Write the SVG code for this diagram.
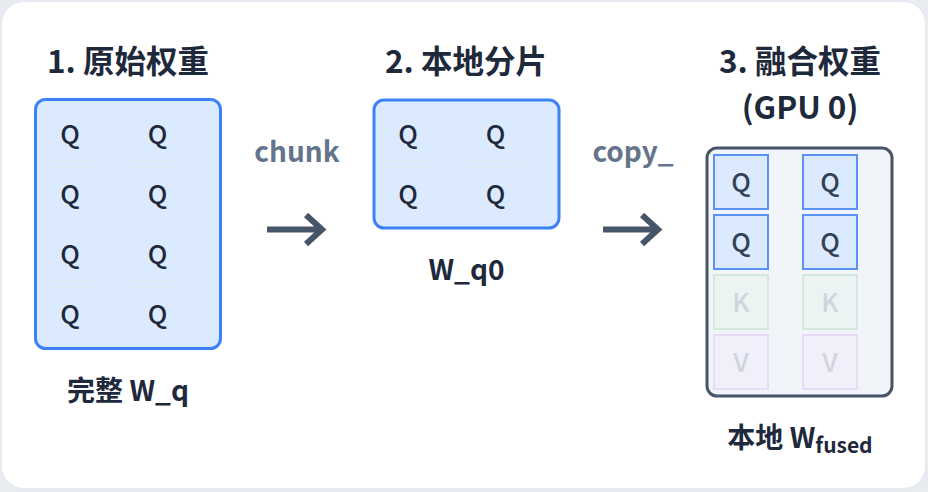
<svg xmlns="http://www.w3.org/2000/svg" width="928" height="492" viewBox="0 0 928 492">
<defs>
<style>
text{font-family:"Noto Sans CJK SC","Noto Sans",sans-serif;text-anchor:middle}
.title{font-size:31.5px;font-weight:700;fill:#1e293b}
.lbl{font-size:28px;font-weight:700;fill:#1e293b}
.op{font-size:28px;font-weight:700;fill:#64748b}
.q{font-size:26px;font-weight:500;fill:#1e293b}
.cell{fill:#dbeafe;stroke:#e2e8f0;stroke-width:1}
.qc{fill:#dbeafe;stroke:#5b93f5;stroke-width:2}
.kc{fill:#ecf4f3;stroke:#d3e9dc;stroke-width:2}
.vc{fill:#f1f0fa;stroke:#e7dbf8;stroke-width:2}
.faint{font-size:26px;font-weight:500;fill:#cfd5dd}
.qd{font-size:26px;font-weight:500;fill:#334155}
.arrow{fill:none;stroke:#475569;stroke-width:6}
</style>
</defs>
<rect x="0" y="0" width="928" height="492" fill="#e8ebf0"/>
<rect x="1.5" y="1.5" width="924" height="487" rx="22" fill="#ffffff" stroke="#e2e8f0"/>

<g id="full-wq">
<text class="title" x="128" y="73">1. 原始权重</text>
<rect x="35.5" y="99.5" width="185" height="249" rx="10" fill="#dbeafe" stroke="#3b82f6" stroke-width="3"/>
<rect class="cell" x="43" y="107" width="54" height="54"/><rect class="cell" x="130" y="107" width="55" height="54"/>
<rect class="cell" x="43" y="167" width="54" height="54"/><rect class="cell" x="130" y="167" width="55" height="54"/>
<rect class="cell" x="43" y="227" width="54" height="54"/><rect class="cell" x="130" y="227" width="55" height="54"/>
<rect class="cell" x="43" y="287" width="54" height="54"/><rect class="cell" x="130" y="287" width="55" height="54"/>
<text class="q" x="70" y="144">Q</text><text class="q" x="157.5" y="144">Q</text>
<text class="q" x="70" y="204">Q</text><text class="q" x="157.5" y="204">Q</text>
<text class="q" x="70" y="264">Q</text><text class="q" x="157.5" y="264">Q</text>
<text class="q" x="70" y="324">Q</text><text class="q" x="157.5" y="324">Q</text>
<text class="lbl" x="128" y="401">完整 W_q</text>
</g>

<g id="local-shard">
<text class="title" x="466" y="73">2. 本地分片</text>
<rect x="374" y="100" width="185" height="128" rx="10" fill="#dbeafe" stroke="#3b82f6" stroke-width="3"/>
<rect class="cell" x="381" y="107" width="54" height="54"/><rect class="cell" x="468" y="107" width="55" height="54"/>
<rect class="cell" x="381" y="167" width="54" height="54"/><rect class="cell" x="468" y="167" width="55" height="54"/>
<text class="q" x="408" y="144">Q</text><text class="q" x="495.5" y="144">Q</text>
<text class="q" x="408" y="204">Q</text><text class="q" x="495.5" y="204">Q</text>
<text class="lbl" x="466.5" y="280">W_q0</text>
</g>

<g id="fused">
<text class="title" x="800" y="73">3. 融合权重</text>
<text class="title" x="800" y="119">(GPU 0)</text>
<rect x="707" y="148" width="185" height="248" rx="10" fill="#f1f5f9" stroke="#475569" stroke-width="3"/>
<rect class="qc" x="714" y="155" width="54" height="54"/><rect class="qc" x="803" y="155" width="54" height="54"/>
<rect class="qc" x="714" y="215" width="54" height="54"/><rect class="qc" x="803" y="215" width="54" height="54"/>
<rect class="kc" x="714" y="275" width="54" height="54"/><rect class="kc" x="803" y="275" width="54" height="54"/>
<rect class="vc" x="714" y="335" width="54" height="54"/><rect class="vc" x="803" y="335" width="54" height="54"/>
<text class="qd" x="741" y="192">Q</text><text class="qd" x="830" y="192">Q</text>
<text class="qd" x="741" y="252">Q</text><text class="qd" x="830" y="252">Q</text>
<text class="faint" x="741" y="312">K</text><text class="faint" x="830" y="312">K</text>
<text class="faint" x="741" y="372">V</text><text class="faint" x="830" y="372">V</text>
<text class="lbl" x="800" y="448">本地 W<tspan font-size="21" dy="5">fused</tspan></text>
</g>

<g id="connectors">
<text class="op" x="297" y="162">chunk</text>
<path class="arrow" d="M267 229.5 H322 M306 215 L322 229.5 L306 244"/>
<text class="op" x="633" y="162">copy_</text>
<path class="arrow" d="M603 229.5 H658 M642 215 L658 229.5 L642 244"/>
</g>
</svg>
